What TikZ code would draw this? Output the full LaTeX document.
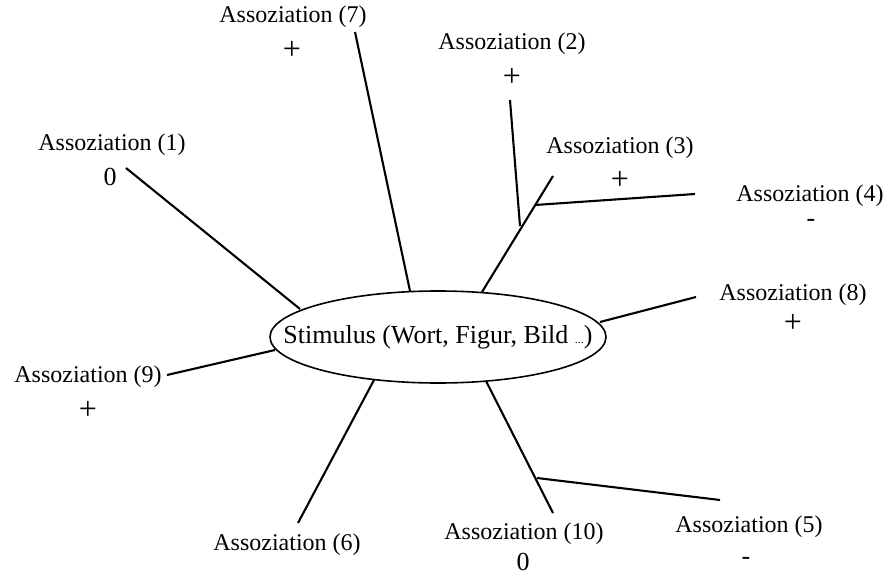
\documentclass[tikz,border=0pt]{standalone}
\usepackage{fontspec}
\setmainfont{Liberation Serif}
\begin{document}
\begin{tikzpicture}[x=1pt,y=-1pt,
  lab/.style={inner sep=0pt,font=\fontsize{24}{26}\selectfont},
  sgn/.style={inner sep=0pt,font=\fontsize{32}{34}\selectfont},
  mns/.style={inner sep=0pt,font=\fontsize{26}{28}\selectfont},
  zer/.style={inner sep=0pt,font=\fontsize{26}{28}\selectfont},
  link/.style={line width=2.1pt}]
\useasboundingbox (0,0) rectangle (893,577);
\node[inner sep=0pt,font=\fontsize{26}{28}\selectfont] (stim) at (438,337) {Stimulus (Wort, Figur, Bild {\fontsize{12}{12}\selectfont...})};
\draw[line width=1.6pt] (stim.center) ellipse [x radius=168pt, y radius=46pt];
% labels
\node[lab] (l7) at (293,17) {Assoziation (7)};
\node[sgn] (s7) at (292,50) {+};
\node[lab] (l2) at (512,44) {Assoziation (2)};
\node[sgn] (s2) at (512,77) {+};
\node[lab] (l1) at (112,145) {Assoziation (1)};
\node[zer] (s1) at (110,177) {0};
\node[lab] (l3) at (620,148) {Assoziation (3)};
\node[sgn] (s3) at (620,180) {+};
\node[lab] (l4) at (810,196) {Assoziation (4)};
\node[mns] (s4) at (811,223) {-};
\node[lab] (l8) at (793,295) {Assoziation (8)};
\node[sgn] (s8) at (793,323) {+};
\node[lab] (l9) at (88,377) {Assoziation (9)};
\node[sgn] (s9) at (88,410) {+};
\node[lab] (l6) at (287,545) {Assoziation (6)};
\node[lab] (l10) at (524,534) {Assoziation (10)};
\node[zer] (s10) at (523,562) {0};
\node[lab] (l5) at (749,527) {Assoziation (5)};
\node[mns] (s5) at (746,561) {-};
% connector end points
\coordinate (a1) at (126,168);  \coordinate (e1) at (300,309);
\coordinate (a7) at (355,32);   \coordinate (e7) at (410,291);
\coordinate (a3) at (553,176);  \coordinate (e3) at (482,292);
\coordinate (a2) at (510,100);  \coordinate (b2) at (520,226);
\coordinate (b4) at (535,205);  \coordinate (a4) at (695,194);
\coordinate (a8) at (696,297);  \coordinate (e8) at (600,322);
\coordinate (a9) at (167,375);  \coordinate (e9) at (275,350);
\coordinate (a6) at (298,523);  \coordinate (e6) at (374,380);
\coordinate (a10) at (553,513); \coordinate (e10) at (486,381);
\coordinate (b5) at (537,478);  \coordinate (a5) at (720,500);
% connectors
\draw[link] (a1) -- (e1);
\draw[link] (a7) -- (e7);
\draw[link] (a3) -- (e3);
\draw[link] (a2) -- (b2);
\draw[link] (b4) -- (a4);
\draw[link] (a8) -- (e8);
\draw[link] (a9) -- (e9);
\draw[link] (a6) -- (e6);
\draw[link] (a10) -- (e10);
\draw[link] (b5) -- (a5);
\end{tikzpicture}
\end{document}
